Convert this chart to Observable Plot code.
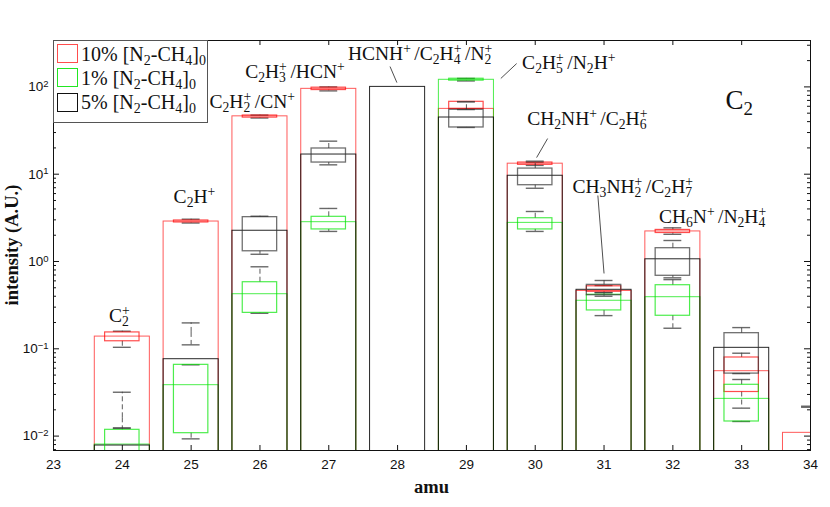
<!DOCTYPE html>
<html><head><meta charset="utf-8">
<script src="https://cdn.jsdelivr.net/npm/d3@7"></script>
<script src="https://cdn.jsdelivr.net/npm/@observablehq/plot@0.6"></script>
<style>
body{margin:0;background:#fff;}
#wrap{position:relative;width:830px;height:507px;overflow:hidden;}
.lab{position:absolute;white-space:nowrap;font-family:"Liberation Serif",serif;font-size:19.5px;line-height:1;transform:translate(-50%,-50%);color:#111;}
.sup{font-size:0.7em;position:relative;top:-0.514em;margin-right:0.25em;}
.sub{font-size:0.7em;position:relative;top:0.3em;}
.ssp{display:inline-block;width:0.58em;font-size:0.7em;position:relative;top:-0.514em;}
.ssb{display:inline-block;width:0.58em;margin-left:-0.58em;font-size:0.7em;position:relative;top:0.3em;margin-right:0.25em;}
#legend{position:absolute;left:53px;top:40px;width:155px;height:83px;border:1px solid #555;background:#fff;box-sizing:border-box;}
#legend .sw{position:absolute;left:3px;width:21px;height:19px;box-sizing:border-box;border:1.5px solid;}
#legend .lt{position:absolute;left:27px;transform:translateY(-50%);font-family:"Liberation Serif",serif;font-size:20px;line-height:1;white-space:nowrap;color:#111;}
#legend .sup,#legend .ssb{margin-right:0.07em;}
.axl{position:absolute;font-family:"Liberation Serif",serif;font-weight:bold;font-size:18.5px;white-space:nowrap;transform:translate(-50%,-50%);color:#111;}
</style>
</head><body>
<div id="wrap"></div>
<script>
// ---------- data ----------
const amu = [24, 25, 26, 27, 28, 29, 30, 31, 32, 33, 34];

// 10% [N2-CH4]0 (red)
const redBar = [0.138, 2.87, 46, 95, null, 56, 13.2, 0.46, 2.21, 0.0554, 0.0109];
const redQ1  = [0.122, 2.80, 44.5, 92, null, 56, 12.8, 0.45, 2.12, 0.032, 0.0217];
const redQ3  = [0.154, 2.95, 47, 98, null, 67.5, 13.6, 0.52, 2.30, 0.0795, 0.0217];
const redLo  = [0.104, 2.76, 44, 90, null, 55, 12.6, 0.44, 2.05, 0.0209, 0.0214];
const redHi  = [0.159, 3.05, 47.5, 100, null, 67.5, 13.7, 0.53, 2.43, 0.089, 0.022];

// 1% [N2-CH4]0 (green)
const greenBar = [0.0080, 0.0383, 0.422, 2.82, null, 120.6, 2.77, 0.355, 0.39, 0.0267, null];
const greenQ1  = [0.005, 0.0108, 0.258, 2.33, null, 118, 2.33, 0.275, 0.239, 0.0147, null];
const greenQ3  = [0.0118, 0.0655, 0.579, 3.25, null, 124, 3.13, 0.416, 0.535, 0.0387, null];
const greenLo  = [0.005, 0.0093, 0.255, 2.21, null, 117, 2.21, 0.24, 0.172, 0.0147, null];
const greenHi  = [0.0124, 0.0655, 0.87, 4.05, null, 125, 3.74, 0.44, 0.62, 0.0445, null];

// 5% [N2-CH4]0 (black)
const blackBar = [0.0078, 0.076, 2.25, 16.8, 100, 44.6, 9.6, 0.474, 1.06, 0.1026, null];
const blackQ1  = [0.0162, 0.154, 1.31, 13.6, null, 34.3, 7.48, 0.411, 0.686, 0.052, null];
const blackQ3  = [0.0162, 0.154, 3.22, 19.7, null, 54.7, 11.6, 0.54, 1.42, 0.151, null];
const blackLo  = [0.0123, 0.111, 1.21, 12.8, null, 34.3, 6.9, 0.40, 0.65, 0.052, null];
const blackHi  = [0.0318, 0.198, 3.3, 23.9, null, 67.8, 14.1, 0.606, 1.74, 0.175, null];

const xTicks = [23, 24, 25, 26, 27, 28, 29, 30, 31, 32, 33, 34];
const yTicks = [0.01, 0.1, 1, 10, 100];
const yTickExp = ["-2", "-1", "0", "1", "2"];

const legendLabels = ["10% [N_2-CH_4]_0", "1% [N_2-CH_4]_0", "5% [N_2-CH_4]_0"];

// annotations (label text, anchor amu, anchor intensity)
const labelText = ["C_2^+", "C_2H^+", "C_2H_2^+/CN^+", "C_2H_3^+/HCN^+", "HCNH^+/C_2H_4^+/N_2^+",
  "C_2H_5^+/N_2H^+", "CH_2NH^+/C_2H_6^+", "CH_3NH_2^+/C_2H_7^+", "CH_6N^+/N_2H_4^+"];
const labelX = [23.99, 25.08, 25.92, 26.54, 28.36, 30.52, 30.79, 31.45, 32.61];
const labelY = [0.234, 5.41, 66.3, 146, 235, 185, 42.3, 7.04, 3.19];
const leaders = [
  {x1: 27.89, y1: 171, x2: 27.99, y2: 112},
  {x1: 29.73, y1: 185, x2: 29.50, y2: 125},
  {x1: 30.18, y1: 25.6, x2: 30.02, y2: 15.5},
  {x1: 30.91, y1: 5.70, x2: 31.00, y2: 0.729}
];
const panelLabel = {text: "C_2", x: 32.97, y: 69.8};

// ---------- build ----------
const series = [
  {key: "red", color: "#ff0000", bar: redBar, q1: redQ1, q3: redQ3, lo: redLo, hi: redHi, barOp: 0.65, boxOp: 0.7},
  {key: "green", color: "#00e600", bar: greenBar, q1: greenQ1, q3: greenQ3, lo: greenLo, hi: greenHi, barOp: 0.7, boxOp: 0.7},
  {key: "black", color: "#000000", bar: blackBar, q1: blackQ1, q3: blackQ3, lo: blackLo, hi: blackHi, barOp: 0.85, boxOp: 0.7}
];
function rows(s) {
  return amu.map((a, i) => ({amu: a, bar: s.bar[i], q1: s.q1[i], q3: s.q3[i], lo: s.lo[i], hi: s.hi[i]}));
}

const W = 830, H = 507, mL = 53, mR = 20, mT = 40, mB = 57;
const frameW = W - mL - mR, frameH = H - mT - mB;
const yDomain = [0.00684, 340];

const minor = [];
for (let e = -3; e <= 2; e++) for (let k = 2; k <= 9; k++) {
  const v = k * Math.pow(10, e);
  if (v > yDomain[0] && v < yDomain[1]) minor.push(v);
}

const marks = [];
for (const s of series) {
  marks.push(Plot.rect(rows(s).filter(d => d.bar != null), {
    x1: d => d.amu - 0.4, x2: d => d.amu + 0.4, y1: () => 0.004, y2: "bar",
    fill: "none", stroke: s.color, strokeOpacity: s.barOp, strokeWidth: 1, clip: true
  }));
}
for (const s of series) {
  const b = rows(s).filter(d => d.q1 != null);
  marks.push(
    Plot.ruleX(b, {x: "amu", y1: "q3", y2: "hi", stroke: "#333", strokeOpacity: 0.8, strokeDasharray: "5,3", clip: true}),
    Plot.ruleX(b, {x: "amu", y1: "q1", y2: "lo", stroke: "#333", strokeOpacity: 0.8, strokeDasharray: "5,3", clip: true}),
    Plot.ruleY(b, {y: "hi", x1: d => d.amu - 0.13, x2: d => d.amu + 0.13, stroke: "#444", strokeOpacity: 0.8, strokeWidth: 1.4, clip: true}),
    Plot.ruleY(b, {y: "lo", x1: d => d.amu - 0.13, x2: d => d.amu + 0.13, stroke: "#444", strokeOpacity: 0.8, strokeWidth: 1.4, clip: true}),
    Plot.rect(b, {x1: d => d.amu - 0.25, x2: d => d.amu + 0.25, y1: "q1", y2: "q3",
      fill: "none", stroke: s.key === "black" ? "#333" : s.color, strokeOpacity: s.boxOp, strokeWidth: s.key === "black" ? 1.3 : 1.2, clip: true})
  );
}
marks.push(
  Plot.link(leaders, {x1: "x1", y1: "y1", x2: "x2", y2: "y2", stroke: "#222", strokeWidth: 0.8}),
  Plot.frame({stroke: "#111", strokeWidth: 1}),
  Plot.ruleX(xTicks, {x: d => d, insetTop: frameH - 5, stroke: "#111"}),
  Plot.ruleX(xTicks, {x: d => d, insetBottom: frameH - 5, stroke: "#111"}),
  Plot.ruleY(yTicks, {y: d => d, insetRight: frameW - 6, stroke: "#111"}),
  Plot.ruleY(yTicks, {y: d => d, insetLeft: frameW - 6, stroke: "#111"}),
  Plot.ruleY(minor, {y: d => d, insetRight: frameW - 3, stroke: "#111"}),
  Plot.ruleY(minor, {y: d => d, insetLeft: frameW - 3, stroke: "#111"}),
  Plot.axisX({ticks: xTicks, tickFormat: d => String(d), tickSize: 0, tickPadding: 9, label: null}),
  Plot.axisY({ticks: yTicks, tickFormat: d => "10^" + yTickExp[yTicks.indexOf(d)], tickSize: 0, tickPadding: 5, label: null})
);

const chart = Plot.plot({
  width: W, height: H,
  marginLeft: mL, marginRight: mR, marginTop: mT, marginBottom: mB,
  x: {type: "linear", domain: [23, 34]},
  y: {type: "log", domain: yDomain},
  style: {fontFamily: "'Liberation Sans', Arial, sans-serif", fontSize: "13.5px", color: "#111", background: "#fff"},
  marks
});

const wrap = document.getElementById("wrap");
wrap.appendChild(chart);

// render y tick labels as 10 with a raised exponent
d3.select(chart).selectAll('g[aria-label="y-axis tick label"] text').each(function () {
  const t = d3.select(this);
  const s = t.text();
  const [base, ex] = s.split("^");
  t.text(null);
  t.append("tspan").text(base);
  t.append("tspan").attr("dy", "-0.45em").attr("font-size", "9.5px").text(ex.replace("-", "−"));
});

function rich(s) {
  const toks = []; let i = 0;
  while (i < s.length) {
    const c = s[i];
    if (c === "_" || c === "^") {
      let v;
      if (s[i + 1] === "{") { const j = s.indexOf("}", i); v = s.slice(i + 2, j); i = j + 1; }
      else { v = s[i + 1]; i += 2; }
      toks.push({t: c, v});
    } else { toks.push({t: "n", v: c}); i++; }
  }
  let html = "";
  for (let k = 0; k < toks.length; k++) {
    const a = toks[k], b = toks[k + 1];
    if (a.t !== "n" && b && b.t !== "n" && b.t !== a.t) {
      const sp = a.t === "^" ? a.v : b.v, sb = a.t === "_" ? a.v : b.v;
      html += `<span class="ssp">${sp}</span><span class="ssb">${sb}</span>`;
      k++;
    } else if (a.t === "^") html += `<span class="sup">${a.v}</span>`;
    else if (a.t === "_") html += `<span class="sub">${a.v}</span>`;
    else html += a.v;
  }
  return html;
}

const sx = chart.scale("x"), sy = chart.scale("y");
labelText.forEach((t, i) => {
  const d = document.createElement("div");
  d.className = "lab";
  d.style.left = sx.apply(labelX[i]) + "px";
  d.style.top = sy.apply(labelY[i]) + "px";
  d.innerHTML = rich(t);
  wrap.appendChild(d);
});
{
  const d = document.createElement("div");
  d.className = "lab";
  d.style.fontSize = "27px";
  d.style.left = sx.apply(panelLabel.x) + "px";
  d.style.top = sy.apply(panelLabel.y) + "px";
  d.innerHTML = rich(panelLabel.text);
  wrap.appendChild(d);
}

// legend
const leg = document.createElement("div");
leg.id = "legend";
const legColors = ["#ff4d4d", "#22e622", "#111"];
legendLabels.forEach((t, i) => {
  const sw = document.createElement("div");
  sw.className = "sw";
  sw.style.top = (3 + i * 24.3) + "px";
  sw.style.borderColor = legColors[i];
  leg.appendChild(sw);
  const lt = document.createElement("div");
  lt.className = "lt";
  lt.style.top = (13 + i * 24) + "px";
  lt.innerHTML = rich(t);
  leg.appendChild(lt);
});
wrap.appendChild(leg);

// axis titles
const yl = document.createElement("div");
yl.className = "axl";
yl.style.left = "12px"; yl.style.top = "245px";
yl.style.transform = "translate(-50%,-50%) rotate(-90deg)";
yl.textContent = "intensity (A.U.)";
wrap.appendChild(yl);
const xl = document.createElement("div");
xl.className = "axl";
xl.style.left = sx.apply(28.5) + "px"; xl.style.top = "487px";
xl.textContent = "amu";
wrap.appendChild(xl);
</script>
</body></html>
